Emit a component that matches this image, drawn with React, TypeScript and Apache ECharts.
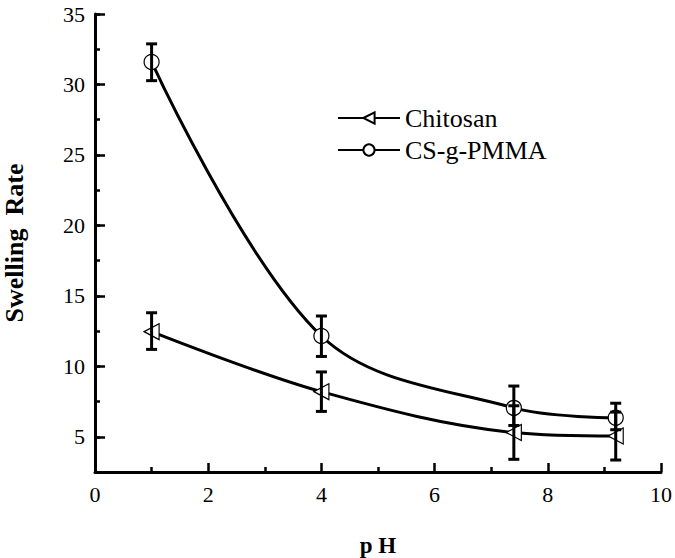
import React, { useEffect, useRef } from "react";
import * as echarts from "echarts";

const pH = [1, 4, 7.4, 9.2];
const chitosan = [12.46, 8.2, 5.3, 5.05];
const chitosanLow = [11.2, 6.8, 3.4, 3.35];
const chitosanHigh = [13.8, 9.6, 7.2, 6.75];
const csgpmma = [31.6, 12.15, 7.05, 6.35];
const csgpmmaLow = [30.27, 10.7, 5.8, 5.5];
const csgpmmaHigh = [32.88, 13.57, 8.6, 7.38];
const yTicks = ["2.5", "5", "7.5", "10", "12.5", "15", "17.5", "20", "22.5", "25", "27.5", "30", "32.5", "35"];
const FONT = "Liberation Serif";

export default function App() {
  const ref = useRef<HTMLDivElement>(null);
  useEffect(() => {
    const chart = echarts.init(ref.current!, null, { renderer: "svg" });
    const errData = (lo: number[], hi: number[]) => pH.map((x, i) => [x, lo[i], hi[i]]);
    const renderErr = (params: any, api: any) => {
      const x = api.value(0);
      const p1 = api.coord([x, api.value(1)]);
      const p2 = api.coord([x, api.value(2)]);
      const cap = 5.5;
      const st = { stroke: "#000", lineWidth: 3 };
      return {
        type: "group",
        children: [
          { type: "line", shape: { x1: p1[0], y1: p1[1], x2: p2[0], y2: p2[1] }, style: st },
          { type: "line", shape: { x1: p1[0] - cap, y1: p1[1], x2: p1[0] + cap, y2: p1[1] }, style: st },
          { type: "line", shape: { x1: p2[0] - cap, y1: p2[1], x2: p2[0] + cap, y2: p2[1] }, style: st },
        ],
      };
    };
    chart.setOption({
      animation: false,
      backgroundColor: "#fff",
      grid: { left: 95, right: 14, top: 14, bottom: 86, containLabel: false, outerBoundsMode: "none" },
      legend: {
        data: ["Chitosan", "CS-g-PMMA"],
        orient: "vertical",
        left: 337,
        top: 103,
        padding: 0,
        itemWidth: 62,
        itemHeight: 14,
        itemGap: 2,
        textStyle: { fontFamily: FONT, fontSize: 26, lineHeight: 30, color: "#000" },
      },
      xAxis: {
        type: "value",
        min: 0,
        max: 10,
        interval: 2,
        name: "p H",
        nameLocation: "middle",
        nameGap: 62,
        nameTextStyle: { fontFamily: FONT, fontSize: 23, fontWeight: "bold", color: "#000" },
        axisLine: { lineStyle: { color: "#000", width: 3 } },
        axisTick: { inside: true, length: 9, lineStyle: { color: "#000", width: 2.5 } },
        minorTick: { show: true, splitNumber: 2, length: 5, lineStyle: { color: "#000", width: 2.5 } },
        axisLabel: { fontFamily: FONT, fontSize: 22, color: "#000", margin: 11 },
        splitLine: { show: false },
      },
      yAxis: [
        {
          type: "value",
          min: 2.5,
          max: 35,
          interval: 2.5,
          axisLine: { show: true, lineStyle: { color: "#000", width: 3 } },
          axisTick: { show: true, inside: true, length: 5, lineStyle: { color: "#000", width: 2.5 } },
          axisLabel: { show: false },
          splitLine: { show: false },
        },
        {
          type: "category",
          data: yTicks,
          boundaryGap: false,
          position: "left",
          name: "Swelling  Rate",
          nameLocation: "middle",
          nameGap: 68,
          nameRotate: 90,
          nameTextStyle: { fontFamily: FONT, fontSize: 26, fontWeight: "bold", color: "#000" },
          axisLine: { show: false },
          axisTick: {
            show: true,
            inside: true,
            length: 10,
            interval: (i: number) => i % 2 === 1,
            lineStyle: { color: "#000", width: 2.5 },
          },
          axisLabel: {
            fontFamily: FONT,
            fontSize: 22,
            color: "#000",
            margin: 10,
            interval: (i: number) => i % 2 === 1,
          },
          splitLine: { show: false },
        },
      ],
      series: [
        {
          name: "Chitosan",
          type: "line",
          data: pH.map((x, i) => [x, chitosan[i]]),
          smooth: 0.35,
          symbol: "triangle",
          symbolSize: [16, 15],
          symbolRotate: 90,
          lineStyle: { color: "#000", width: 3 },
          itemStyle: { color: "#fff", borderColor: "#000", borderWidth: 1.2 },
          z: 3,
        },
        {
          name: "CS-g-PMMA",
          type: "line",
          data: pH.map((x, i) => [x, csgpmma[i]]),
          smooth: 0.35,
          symbol: "circle",
          symbolSize: 15,
          lineStyle: { color: "#000", width: 3 },
          itemStyle: { color: "#fff", borderColor: "#000", borderWidth: 1.2 },
          z: 3,
        },
        {
          name: "errChitosan",
          type: "custom",
          data: errData(chitosanLow, chitosanHigh),
          encode: { x: 0, y: [1, 2] },
          renderItem: renderErr,
          z: 5,
        },
        {
          name: "errCS",
          type: "custom",
          data: errData(csgpmmaLow, csgpmmaHigh),
          encode: { x: 0, y: [1, 2] },
          renderItem: renderErr,
          z: 5,
        },
      ],
    });
    return () => chart.dispose();
  }, []);
  return (
    <div
      ref={ref}
      style={{ position: "fixed", left: 0, top: 0, width: 675, height: 558, background: "#fff" }}
    />
  );
}
